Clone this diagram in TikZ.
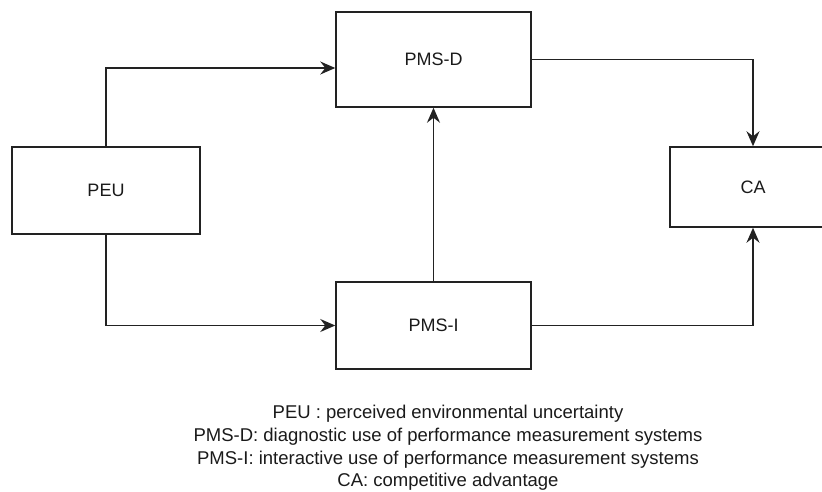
\documentclass[tikz,border=0pt]{standalone}
\usepackage{fontspec}
\setmainfont{Liberation Sans}
\usetikzlibrary{arrows.meta}
\definecolor{linegray}{HTML}{222222}
\definecolor{txtgray}{HTML}{1A1A1A}
\begin{document}
\begin{tikzpicture}[x=1pt,y=-1pt,
  box/.style={draw=linegray,line width=1.5pt,rectangle,minimum width=#1,inner sep=0pt,font=\fontsize{18}{21}\selectfont,text=txtgray},
  conn/.style={draw=linegray,line width=1.4pt,-{Stealth[length=15pt,width=13pt,inset=5pt]}}]
\useasboundingbox (0,0) rectangle (822,492);
\node[box=188pt,minimum height=87pt] (PEU) at (106,190.5) {PEU};
\node[box=195pt,minimum height=95pt] (PMSD) at (433.5,59.5) {PMS-D};
\node[box=166pt,minimum height=80pt] (CA) at (753,187) {CA};
\node[box=195pt,minimum height=87pt] (PMSI) at (433.5,325.5) {PMS-I};
\coordinate (t1) at (0,68);
\draw[conn] (PEU.north) |- (PMSD.west |- t1);
\draw[conn] (PMSD.east) -| (CA.north);
\draw[conn] (PMSI.north) -- (PMSD.south);
\draw[conn] (PEU.south) |- (PMSI.west);
\draw[conn] (PMSI.east) -| (CA.south);
\node[align=center,font=\fontsize{18.5}{22.6}\selectfont,text=txtgray,inner sep=0pt] (legend) at (448,448)
{PEU : perceived environmental uncertainty\\
PMS-D: diagnostic use of performance measurement systems\\
PMS-I: interactive use of performance measurement systems\\
CA: competitive advantage};
\end{tikzpicture}
\end{document}
